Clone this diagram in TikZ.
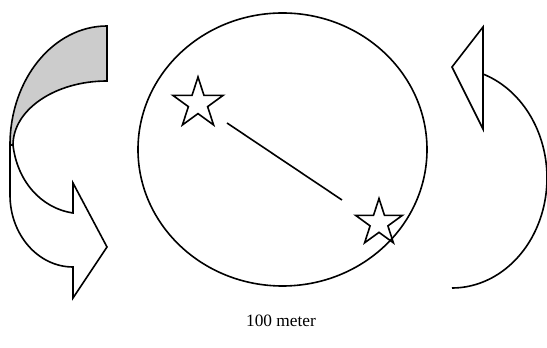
\documentclass[tikz,border=0pt]{standalone}
\usepackage{fontspec}
\setmainfont{Liberation Serif}
\usetikzlibrary{shapes.geometric}
\begin{document}
\begin{tikzpicture}[x=0.75pt,y=-0.75pt,
  outline/.style={draw=black,line width=1.2pt,line join=miter},
  starnode/.style={star,star points=5,star point ratio=2.618,draw=black,line width=1.2pt,inner sep=0pt}]
\useasboundingbox (0,0) rectangle (547,348);
% left curved arrow: back (gray) band
\path[outline,fill=black!20] (107,26) .. controls (53.4,26) and (10,79.3) .. (10,145)
  -- (13,145) .. controls (13,109.7) and (55.1,81) .. (107,81) -- cycle;
% front band with arrow head
\path[outline,fill=white] (10,145) -- (10,195) .. controls (10,234.8) and (38.2,267) .. (73,267)
  -- (73,298) -- (107,247) -- (73,183) -- (73,213)
  .. controls (40,208) and (17,180) .. (13,145) -- cycle;
% big ellipse
\node[ellipse,draw=black,line width=1.2pt,minimum width=216.75pt,minimum height=204.75pt,inner sep=0pt] (circ) at (282.5,149.5) {};
% stars
\node[starnode,minimum size=39.75pt] (s1) at (198,103.5) {};
\node[starnode,minimum size=36.75pt] (s2) at (379,223) {};
\coordinate (l1) at (227,123);
\coordinate (l2) at (342,200);
\draw[line width=1.2pt] (l1) -- (l2);
% right shape
\path[outline] (483,27) -- (452,67) -- (483,129) -- cycle;
\draw[line width=1.2pt] plot[domain=71:-90,samples=80,smooth] ({452+95*cos(\x)},{178-110*sin(\x)});
% label
\node[font=\fontsize{13}{15}\selectfont,inner sep=0pt] (lbl) at (281,321) {100 meter};
\end{tikzpicture}
\end{document}
